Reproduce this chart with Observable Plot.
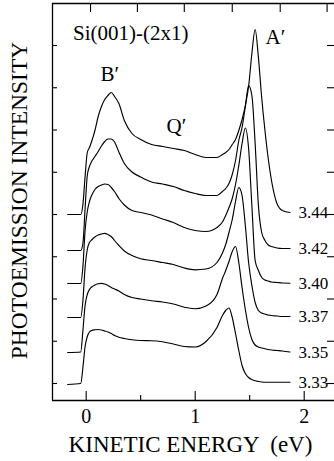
<!DOCTYPE html>
<html>
<head>
<meta charset="utf-8">
<script src="https://cdn.jsdelivr.net/npm/d3@7"></script>
<script src="https://cdn.jsdelivr.net/npm/@observablehq/plot@0.6"></script>
<style>
  html, body { margin: 0; padding: 0; background: #fff; }
  #chart svg { display: block; }
  #chart svg, #chart svg text { font-family: "Liberation Serif", "Times New Roman", serif !important; }
</style>
</head>
<body>
<div id="chart"></div>
<script>
// Kinetic energy grid (eV)
const energy = [-0.17, -0.05, -0.03, -0.01, 0.01, 0.03, 0.05, 0.08, 0.11, 0.14,
  0.17, 0.20, 0.23, 0.26, 0.30, 0.35, 0.42, 0.50, 0.60, 0.70,
  0.80, 0.90, 1.00, 1.10, 1.20, 1.25, 1.28, 1.31, 1.34, 1.37,
  1.40, 1.43, 1.46, 1.49, 1.52, 1.55, 1.58, 1.61, 1.64, 1.67,
  1.70, 1.75, 1.80, 1.87];

// Photoemission intensity (arb. units, spectra offset vertically)
const s344 = [169, 169, 179, 207, 231, 236, 242, 253, 267, 277,
  284, 288, 291, 287, 280, 263, 250, 244, 239, 237,
  235, 233, 229, 226, 226, 229, 231, 234, 239, 244,
  253, 264, 278, 297, 330, 354, 326, 286, 253, 225,
  203, 180, 173, 171];
const s342 = [133, 133, 140, 175, 208, 217, 222, 227, 232, 237.5,
  242, 244.5, 244.5, 241.5, 231.5, 220, 211.5, 206.5, 201.5, 199.5,
  197, 193, 190, 188, 188, 192, 195, 200, 209, 223,
  243, 256, 277, 298, 288, 240, 178, 151, 143, 138.5,
  137, 135.5, 135, 135];
const s340 = [100, 100, 117, 153, 172, 182, 188, 194, 197, 198.5,
  199.5, 199, 196, 192, 185, 178.5, 173, 171, 168.5, 164.5,
  161, 156, 153, 152, 156, 161.5, 168, 176, 185, 199,
  218, 240, 255.5, 235, 178, 123, 113, 106, 103.5, 102.5,
  101.5, 101, 100.5, 100.3];
const s337 = [66, 66, 83, 116, 134, 141, 143.5, 146.5, 148.5, 149.5,
  150.2, 149, 147, 143, 138, 132.5, 128, 124.7, 123, 121,
  119, 115.5, 113.7, 114.5, 121, 130.5, 139, 151, 164, 182,
  196, 188, 158, 121, 98, 81, 73, 70.5, 69.5, 68.5,
  68, 67.5, 67, 67];
const s335 = [31, 31.5, 53, 78, 89, 94, 96.5, 98.5, 99.7, 100.2,
  99.5, 98, 96, 94.5, 92.5, 89, 86, 84.5, 82.7, 81.5,
  79.5, 76.2, 74.8, 77.5, 89, 105, 113, 122, 132, 137,
  121, 96, 74, 56, 44, 38.5, 36.5, 35.5, 34.7, 34,
  33.5, 33, 32.5, 31.5];
const s333 = [-1, 0, 16, 37, 47, 51.5, 53, 53.7, 54, 53.5,
  52.5, 51.5, 50, 48, 46.3, 45, 43.7, 43, 42.8, 41.7,
  39.5, 37, 36.5, 42, 56, 68, 73, 75.5, 66, 50,
  33, 18, 10, 6, 4, 2.7, 2, 1.5, 1.3, 1.3,
  1.3, 1.3, 1.3, 1.3];

const seriesLabels = ["3.44", "3.42", "3.40", "3.37", "3.35", "3.33"];
const seriesValues = [s344, s342, s340, s337, s335, s333];

// Axis ticks
const xDomain = [-0.309, 2.278];
const yDomain = [-17, 380];
const xTickLabels = [0, 1, 2];
const xMajorTicks = [0, 1, 2];
const xMinorTicks = [0.5, 1.5];
const topTicks = [0.04, 0.47, 0.90, 1.34, 1.78, 2.21];
const yTicks = [0, 42.25, 84.5, 126.75, 169, 211.25, 253.5, 295.75, 338];

const rows = seriesLabels.flatMap((label, i) =>
  energy.map((e, j) => ({label, e, v: seriesValues[i][j]})));
const last = energy.length - 1;
const ends = seriesLabels.map((label, i) => ({label, e: energy[last], v: seriesValues[i][last]}));

const T = {fill: "#000", fontFamily: "Liberation Serif"};

const chart = Plot.plot({
  width: 334,
  height: 461,
  marginLeft: 52,
  marginRight: 0,
  marginTop: 3,
  marginBottom: 61,
  x: {domain: xDomain, axis: null},
  y: {domain: yDomain, axis: null},
  style: {fontFamily: "Liberation Serif"},
  marks: [
    // frame (left, top, bottom)
    Plot.ruleX([xDomain[0]], {stroke: "#000", strokeWidth: 1.3}),
    Plot.ruleY([yDomain[0], yDomain[1]], {stroke: "#000", strokeWidth: 1.3}),
    // inward ticks
    Plot.tickX(xMajorTicks, {x: d => d, stroke: "#000", strokeWidth: 1.1, insetTop: 388}),
    Plot.tickX(xMinorTicks, {x: d => d, stroke: "#000", strokeWidth: 1.1, insetTop: 392}),
    Plot.tickX(topTicks, {x: d => d, stroke: "#000", strokeWidth: 1.1, insetBottom: 388}),
    Plot.tickY(yTicks, {y: d => d, stroke: "#000", strokeWidth: 1.1, insetRight: 277}),
    Plot.tickY(yTicks, {y: d => d, stroke: "#000", strokeWidth: 1.1, insetLeft: 275}),
    // spectra
    Plot.line(rows, {x: "e", y: "v", z: "label", stroke: "#000", strokeWidth: 1.15, curve: "monotone-x"}),
    // series labels
    Plot.text(ends, {x: "e", y: "v", text: "label", textAnchor: "start", lineAnchor: "middle",
      dx: 8.5, dy: 0.5, fontSize: 17, ...T}),
    // x tick labels
    Plot.text(xTickLabels, {x: d => d, text: d => String(d), frameAnchor: "bottom", lineAnchor: "top",
      dy: 8, fontSize: 20, ...T}),
    // annotations
    Plot.text(["Si(001)-(2x1)"], {frameAnchor: "top-left", textAnchor: "start", lineAnchor: "bottom",
      dx: 20.5, dy: 36, fontSize: 21, ...T}),
    Plot.text(["B\u2032"], {frameAnchor: "top-left", textAnchor: "start", lineAnchor: "bottom",
      dx: 48, dy: 77, fontSize: 21, ...T}),
    Plot.text(["Q\u2032"], {frameAnchor: "top-left", textAnchor: "start", lineAnchor: "bottom",
      dx: 114, dy: 129, fontSize: 21, ...T}),
    Plot.text(["A\u2032"], {frameAnchor: "top-left", textAnchor: "start", lineAnchor: "bottom",
      dx: 213, dy: 40, fontSize: 21, ...T}),
    // axis titles
    Plot.text(["PHOTOEMISSION INTENSITY"], {frameAnchor: "left", rotate: -90, textAnchor: "middle",
      lineAnchor: "middle", dx: -33, dy: -1.5, fontSize: 23.5, ...T}),
    Plot.text(["KINETIC ENERGY \u00a0(eV)"], {frameAnchor: "bottom", textAnchor: "middle",
      lineAnchor: "bottom", dx: -3, dy: 51, fontSize: 23, ...T})
  ]
});

document.getElementById("chart").appendChild(chart);
</script>
</body>
</html>
